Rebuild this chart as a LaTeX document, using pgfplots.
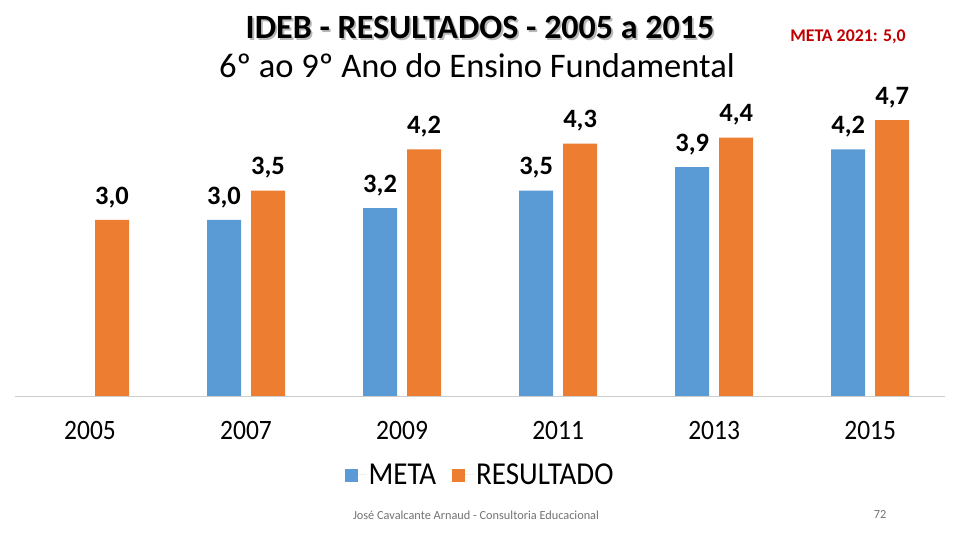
\documentclass[border=0pt]{standalone}
\usepackage{pgfplots}
\pgfplotsset{compat=1.18}
\usepackage{fontspec}
\setmainfont{Carlito}
\definecolor{meta}{HTML}{5B9BD5}
\definecolor{resul}{HTML}{ED7D31}
\definecolor{metared}{HTML}{C00000}
\newcommand{\vs}[1]{\scalebox{1}[1.1]{#1}}
\begin{document}
\begin{tikzpicture}
\useasboundingbox[fill=white] (0bp,0bp) rectangle (960bp,540bp);
% titles
\node[text=black!28] at (481.8bp,510.7bp) {\fontsize{34bp}{40bp}\selectfont\bfseries IDEB - RESULTADOS - 2005 a 2015};
\node at (480bp,512.5bp) {\fontsize{34bp}{40bp}\selectfont\bfseries IDEB - RESULTADOS - 2005 a 2015};
\node at (477bp,474bp) {\fontsize{34.5bp}{41bp}\selectfont 6º ao 9º Ano do Ensino Fundamental};
\node[text=metared] at (848bp,503bp) {\fontsize{17.8bp}{21bp}\selectfont\bfseries META 2021: 5,0};
\node[text=black!55] at (476bp,25bp) {\fontsize{12.3bp}{15bp}\selectfont José Cavalcante Arnaud - Consultoria Educacional};
\node[text=black!55] at (880bp,25bp) {\fontsize{12.3bp}{15bp}\selectfont 72};
\begin{axis}[
  at={(90bp,144bp)}, anchor=origin,
  scale only axis, width=930bp, height=293.5bp,
  xmin=-0.48, xmax=5.48, ymin=0, ymax=5,
  ybar=10bp, bar width=34bp,
  axis x line*=bottom, hide y axis,
  x axis line style={draw=black!20, line width=0.8bp, -},
  xtick={0,1,2,3,4,5},
  xticklabels={\vs{2005},\vs{2007},\vs{2009},\vs{2011},\vs{2013},\vs{2015}},
  major tick length=0pt,
  xticklabel style={font=\fontsize{25.5bp}{30bp}\selectfont, inner sep=0pt, anchor=north, yshift=-25bp},
  /pgf/number format/assume math mode=true,
  /pgf/number format/.cd, use comma, fixed, fixed zerofill, precision=1, /pgfplots/.cd,
  nodes near coords,
  every node near coord/.append style={font=\fontsize{26.5bp}{31bp}\selectfont\bfseries, text=black, inner sep=0pt, anchor=south, yshift=12bp},
  legend columns=2,
  legend style={at={(0.5,-0.269)}, anchor=center, draw=none, fill=none,
    font=\fontsize{29bp}{34bp}\selectfont, inner sep=0pt,
    /tikz/every even column/.append style={column sep=14bp}},
  legend image code/.code={\fill[#1] (0bp,-7bp) rectangle (13bp,6bp); \path (0bp,0bp) -- (22bp,0bp);},
]
\addplot[fill=meta, draw=none] coordinates {(1,3.0) (2,3.2) (3,3.5) (4,3.9) (5,4.2)};
\addplot[fill=resul, draw=none] coordinates {(0,3.0) (1,3.5) (2,4.2) (3,4.3) (4,4.4) (5,4.7)};
\legend{\vs{META},\vs{RESULTADO}}
\end{axis}
\end{tikzpicture}
\end{document}
